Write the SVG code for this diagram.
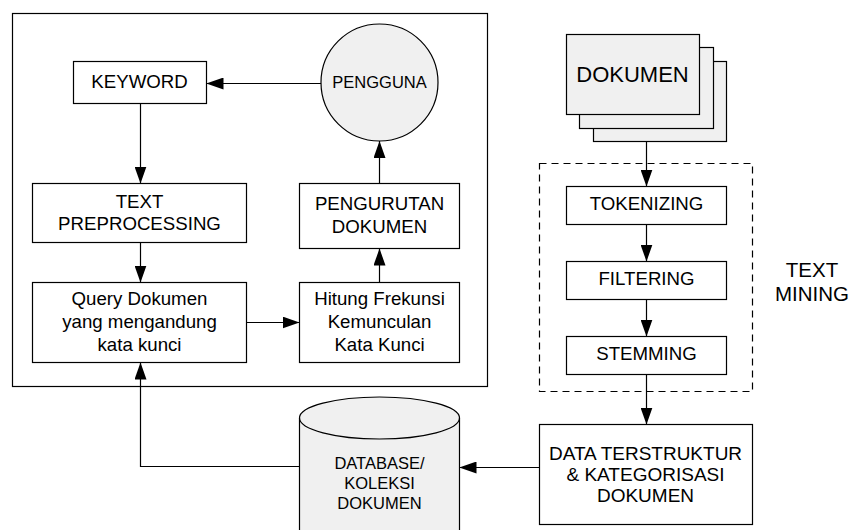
<svg xmlns="http://www.w3.org/2000/svg" width="856" height="530" viewBox="0 0 856 530">
<defs>
<marker id="arr" markerUnits="userSpaceOnUse" markerWidth="17" markerHeight="12" refX="17" refY="6" orient="auto">
<path d="M0,0 L17,6 L0,12 z" fill="#000"/>
</marker>
<style>
.b{fill:#fff;stroke:#000;stroke-width:1.2}
.g{fill:#f0f0f0;stroke:#000;stroke-width:1.2}
.t{font-family:"Liberation Sans",Arial,sans-serif;font-size:18.67px;text-anchor:middle;fill:#000}
.s{font-size:16.5px}
.c{fill:none;stroke:#000;stroke-width:1.2;marker-end:url(#arr)}
</style>
</defs>
<rect width="856" height="530" fill="#fff"/>
<g id="search-frame"><rect x="12.5" y="13.5" width="475" height="373" fill="none" stroke="#000" stroke-width="1.2"/></g>
<g id="text-mining-frame"><rect x="539.5" y="163.5" width="213" height="228" fill="none" stroke="#000" stroke-width="1.2" stroke-dasharray="7,5"/>
<text class="t" x="812" y="277" style="font-size:20.5px">TEXT</text>
<text class="t" x="812" y="301" style="font-size:20.5px">MINING</text></g>
<g id="keyword"><rect class="b" x="73.5" y="61.5" width="133" height="42"/><text class="t" x="139.5" y="88">KEYWORD</text></g>
<g id="pengguna"><circle class="g" cx="379.5" cy="82.5" r="58.5"/><text class="t" x="379.5" y="88" style="font-size:16.5px">PENGGUNA</text></g>
<g id="text-preprocessing"><rect class="b" x="32.5" y="183.5" width="214" height="59"/><text class="t" x="139.5" y="208">TEXT</text><text class="t" x="139.5" y="230">PREPROCESSING</text></g>
<g id="pengurutan"><rect class="b" x="299.5" y="183.5" width="160" height="65"/><text class="t" x="379.5" y="210">PENGURUTAN</text><text class="t" x="379.5" y="233">DOKUMEN</text></g>
<g id="query"><rect class="b" x="32.5" y="282.5" width="214" height="80"/><text class="t" x="139.5" y="305">Query Dokumen</text><text class="t" x="139.5" y="328">yang mengandung</text><text class="t" x="139.5" y="351">kata kunci</text></g>
<g id="hitung"><rect class="b" x="299.5" y="282.5" width="160" height="80"/><text class="t" x="379.5" y="305">Hitung Frekunsi</text><text class="t" x="379.5" y="328">Kemunculan</text><text class="t" x="379.5" y="351">Kata Kunci</text></g>
<g id="dokumen"><rect class="g" x="593.5" y="61.5" width="133" height="80"/><rect class="g" x="579.5" y="47.5" width="134" height="81"/><rect class="g" x="566.5" y="34.5" width="133" height="80"/><text class="t" x="632.5" y="81.5" style="font-size:22px">DOKUMEN</text></g>
<g id="tokenizing"><rect class="b" x="566.5" y="186.5" width="160" height="38"/><text class="t" x="646.5" y="210">TOKENIZING</text></g>
<g id="filtering"><rect class="b" x="566.5" y="261.5" width="160" height="38"/><text class="t" x="646.5" y="285">FILTERING</text></g>
<g id="stemming"><rect class="b" x="566.5" y="336.5" width="160" height="38"/><text class="t" x="646.5" y="360">STEMMING</text></g>
<g id="data-terstruktur"><rect class="b" x="539.5" y="424.5" width="213" height="100"/><text class="t" x="645.5" y="460" style="font-size:19px">DATA TERSTRUKTUR</text><text class="t" x="645.5" y="481" style="font-size:19px">&amp; KATEGORISASI</text><text class="t" x="645.5" y="502" style="font-size:19px">DOKUMEN</text></g>
<g id="database"><path class="g" d="M299.5,418 A80,21 0 0 1 459.5,418 L459.5,545 L299.5,545 Z"/><path d="M299.5,418 A80,21 0 0 0 459.5,418" fill="none" stroke="#000" stroke-width="1.2"/>
<text class="t s" x="379.5" y="469">DATABASE/</text><text class="t s" x="379.5" y="489">KOLEKSI</text><text class="t s" x="379.5" y="509">DOKUMEN</text></g>
<g id="connectors">
<path class="c" d="M321,83.5 L206.5,83.5"/>
<path class="c" d="M140.5,103.5 L140.5,183.5"/>
<path class="c" d="M140.5,242.5 L140.5,282.5"/>
<path class="c" d="M246.5,322.5 L299.5,322.5"/>
<path class="c" d="M379.5,282.5 L379.5,248.5"/>
<path class="c" d="M379.5,183.5 L379.5,141"/>
<path class="c" d="M646.5,141.5 L646.5,186.5"/>
<path class="c" d="M646.5,224.5 L646.5,261.5"/>
<path class="c" d="M646.5,299.5 L646.5,336.5"/>
<path class="c" d="M646.5,374.5 L646.5,424.5"/>
<path class="c" d="M539.5,467.5 L459.5,467.5"/>
<path class="c" d="M299.5,466.5 L140.5,466.5 L140.5,362.5"/>
</g>
</svg>
